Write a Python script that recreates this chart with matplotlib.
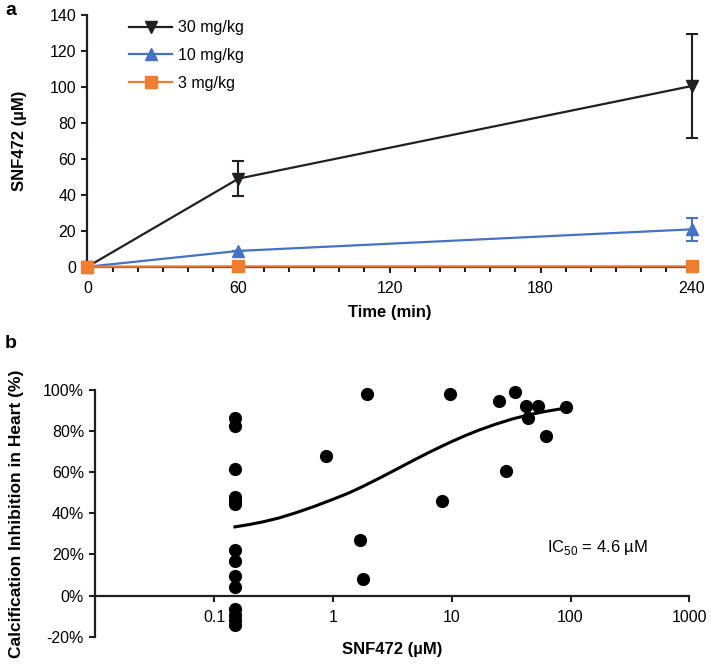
import numpy as np
import matplotlib
matplotlib.use("Agg")
import matplotlib.pyplot as plt
from matplotlib.ticker import FixedLocator, MultipleLocator

plt.rcParams['font.family'] = ['Liberation Sans', 'DejaVu Sans']
plt.rcParams['mathtext.fontset'] = 'custom'
plt.rcParams['mathtext.rm'] = 'Liberation Sans'

# panel a: plasma concentration over time
time_min = [0, 60, 240]
dose_labels = ['30 mg/kg', '10 mg/kg', '3 mg/kg']
conc_30 = [0, 49.0, 100.5]
err_30 = [0, 9.8, 28.7]
conc_10 = [0, 8.8, 20.8]
err_10 = [0, 0, 6.5]
conc_3 = [0, 0.2, 0.2]
err_3 = [0, 0, 0]

# panel b: inhibition vs concentration
snf_conc = [0.15, 0.15, 0.15, 0.15, 0.15, 0.15, 0.15, 0.15, 0.15, 0.15,
            0.15, 0.15, 0.15, 0.15,
            0.87, 1.95, 1.70, 1.79, 8.35, 9.6, 24.9, 28.5, 34.4, 42.0,
            44.0, 53.3, 62.0, 91.3]
inhibition = [86.2, 82.7, 61.6, 47.8, 46.2, 44.7, 22.3, 17.0, 9.6, 4.2,
              -6.5, -9.5, -12.0, -14.5,
              67.9, 98.1, 26.9, 8.0, 46.1, 98.1, 94.5, 60.7, 98.8, 92.4,
              86.4, 92.4, 77.8, 91.6]
# fitted curve
fit_conc = [0.15, 0.2, 0.26, 0.35, 0.49, 0.7, 1.0, 1.35, 1.79, 2.5, 3.42,
            4.7, 6.53, 8.5, 10, 13, 17, 23, 32.4, 45, 62, 91]
fit_inhib = [33.4, 34.6, 35.9, 37.7, 40.3, 43.4, 46.8, 49.8, 53.1, 57.3,
             61.4, 65.6, 69.8, 73.0, 74.9, 77.8, 80.5, 83.2, 85.9, 88.0,
             89.6, 91.2]

black = '#231f20'
blue = '#4472c4'
orange = '#ed7d31'
fs = 11.5

fig = plt.figure(figsize=(7.11, 6.68), dpi=100)

# ---- panel a ----
ax1 = fig.add_axes([0.123, 0.6007, 0.8497, 0.3768])
series = [(conc_30, err_30, black, 'v'), (conc_10, err_10, blue, '^'),
          (conc_3, err_3, orange, 's')]
for i, (vals, errs, col, mk) in enumerate(series):
    ax1.errorbar(time_min, vals, yerr=errs, fmt='none', ecolor=col,
                 elinewidth=1.5, capsize=4, capthick=1.5, clip_on=False,
                 zorder=3 + i)
    ax1.plot(time_min, vals, color=col, marker=mk, markersize=8, lw=1.6,
             label=dose_labels[i], clip_on=False, zorder=3 + i)
ax1.set_xlim(0, 240)
ax1.set_ylim(0, 140)
ax1.xaxis.set_major_locator(FixedLocator([0, 60, 120, 180, 240]))
ax1.xaxis.set_minor_locator(MultipleLocator(10))
ax1.yaxis.set_major_locator(FixedLocator(range(0, 141, 20)))
for s in ['top', 'right']:
    ax1.spines[s].set_visible(False)
for s in ['left', 'bottom']:
    ax1.spines[s].set_linewidth(1.6)
    ax1.spines[s].set_color(black)
ax1.tick_params(which='major', length=4.5, width=1.5, labelsize=fs, color=black)
ax1.tick_params(which='minor', length=3.5, width=1.5, color=black)
ax1.tick_params(axis='x', pad=6)
ax1.set_xlabel('Time (min)', fontsize=12, fontweight='bold', labelpad=6)
ax1.set_ylabel('SNF472 (µM)', fontsize=12, fontweight='bold')
ax1.yaxis.set_label_coords(-0.1, 0.5)
ax1.legend(loc='upper left', bbox_to_anchor=(0.045, 1.037), frameon=False,
           fontsize=fs, handlelength=2.7, handletextpad=0.35,
           labelspacing=0.8)
fig.text(0.007, 0.985, 'a', fontsize=14, fontweight='bold', va='center')

# ---- panel b ----
ax2 = fig.add_axes([0.1339, 0.0469, 0.8357, 0.3693])
ax2.set_xscale('log')
ax2.scatter(snf_conc, inhibition, s=72, color='black', zorder=3, clip_on=False)
ax2.plot(fit_conc, fit_inhib, color='black', lw=2.2, zorder=2)
ax2.set_xlim(0.01, 1000)
ax2.set_ylim(-20, 100)
ax2.xaxis.set_major_locator(FixedLocator([0.1, 1, 10, 100, 1000]))
ax2.xaxis.set_minor_locator(FixedLocator([]))
ax2.set_xticklabels(['0.1', '1', '10', '100', '1000'])
yt = list(range(-20, 101, 20))
ax2.yaxis.set_major_locator(FixedLocator(yt))
ax2.set_yticklabels([f'{v}%' for v in yt])
ax2.spines['bottom'].set_position(('data', 0))
for s in ['top', 'right']:
    ax2.spines[s].set_visible(False)
for s in ['left', 'bottom']:
    ax2.spines[s].set_linewidth(1.6)
    ax2.spines[s].set_color(black)
ax2.tick_params(length=4.5, width=1.5, labelsize=fs, color=black)
ax2.tick_params(axis='x', pad=6)
ax2.set_xlabel('SNF472 (µM)', fontsize=12, fontweight='bold')
ax2.xaxis.set_label_coords(0.5, -0.02)
ax2.set_ylabel('Calcification Inhibition in Heart (%)', fontsize=12.5,
               fontweight='bold')
ax2.yaxis.set_label_coords(-0.12, 0.5)
ax2.text(0.846, 0.363, 'IC$_{50}$ = 4.6 µM', transform=ax2.transAxes,
         fontsize=12, ha='center', va='center')
fig.text(0.007, 0.4865, 'b', fontsize=14, fontweight='bold', va='center')

fig.savefig('out.png', dpi=100)
